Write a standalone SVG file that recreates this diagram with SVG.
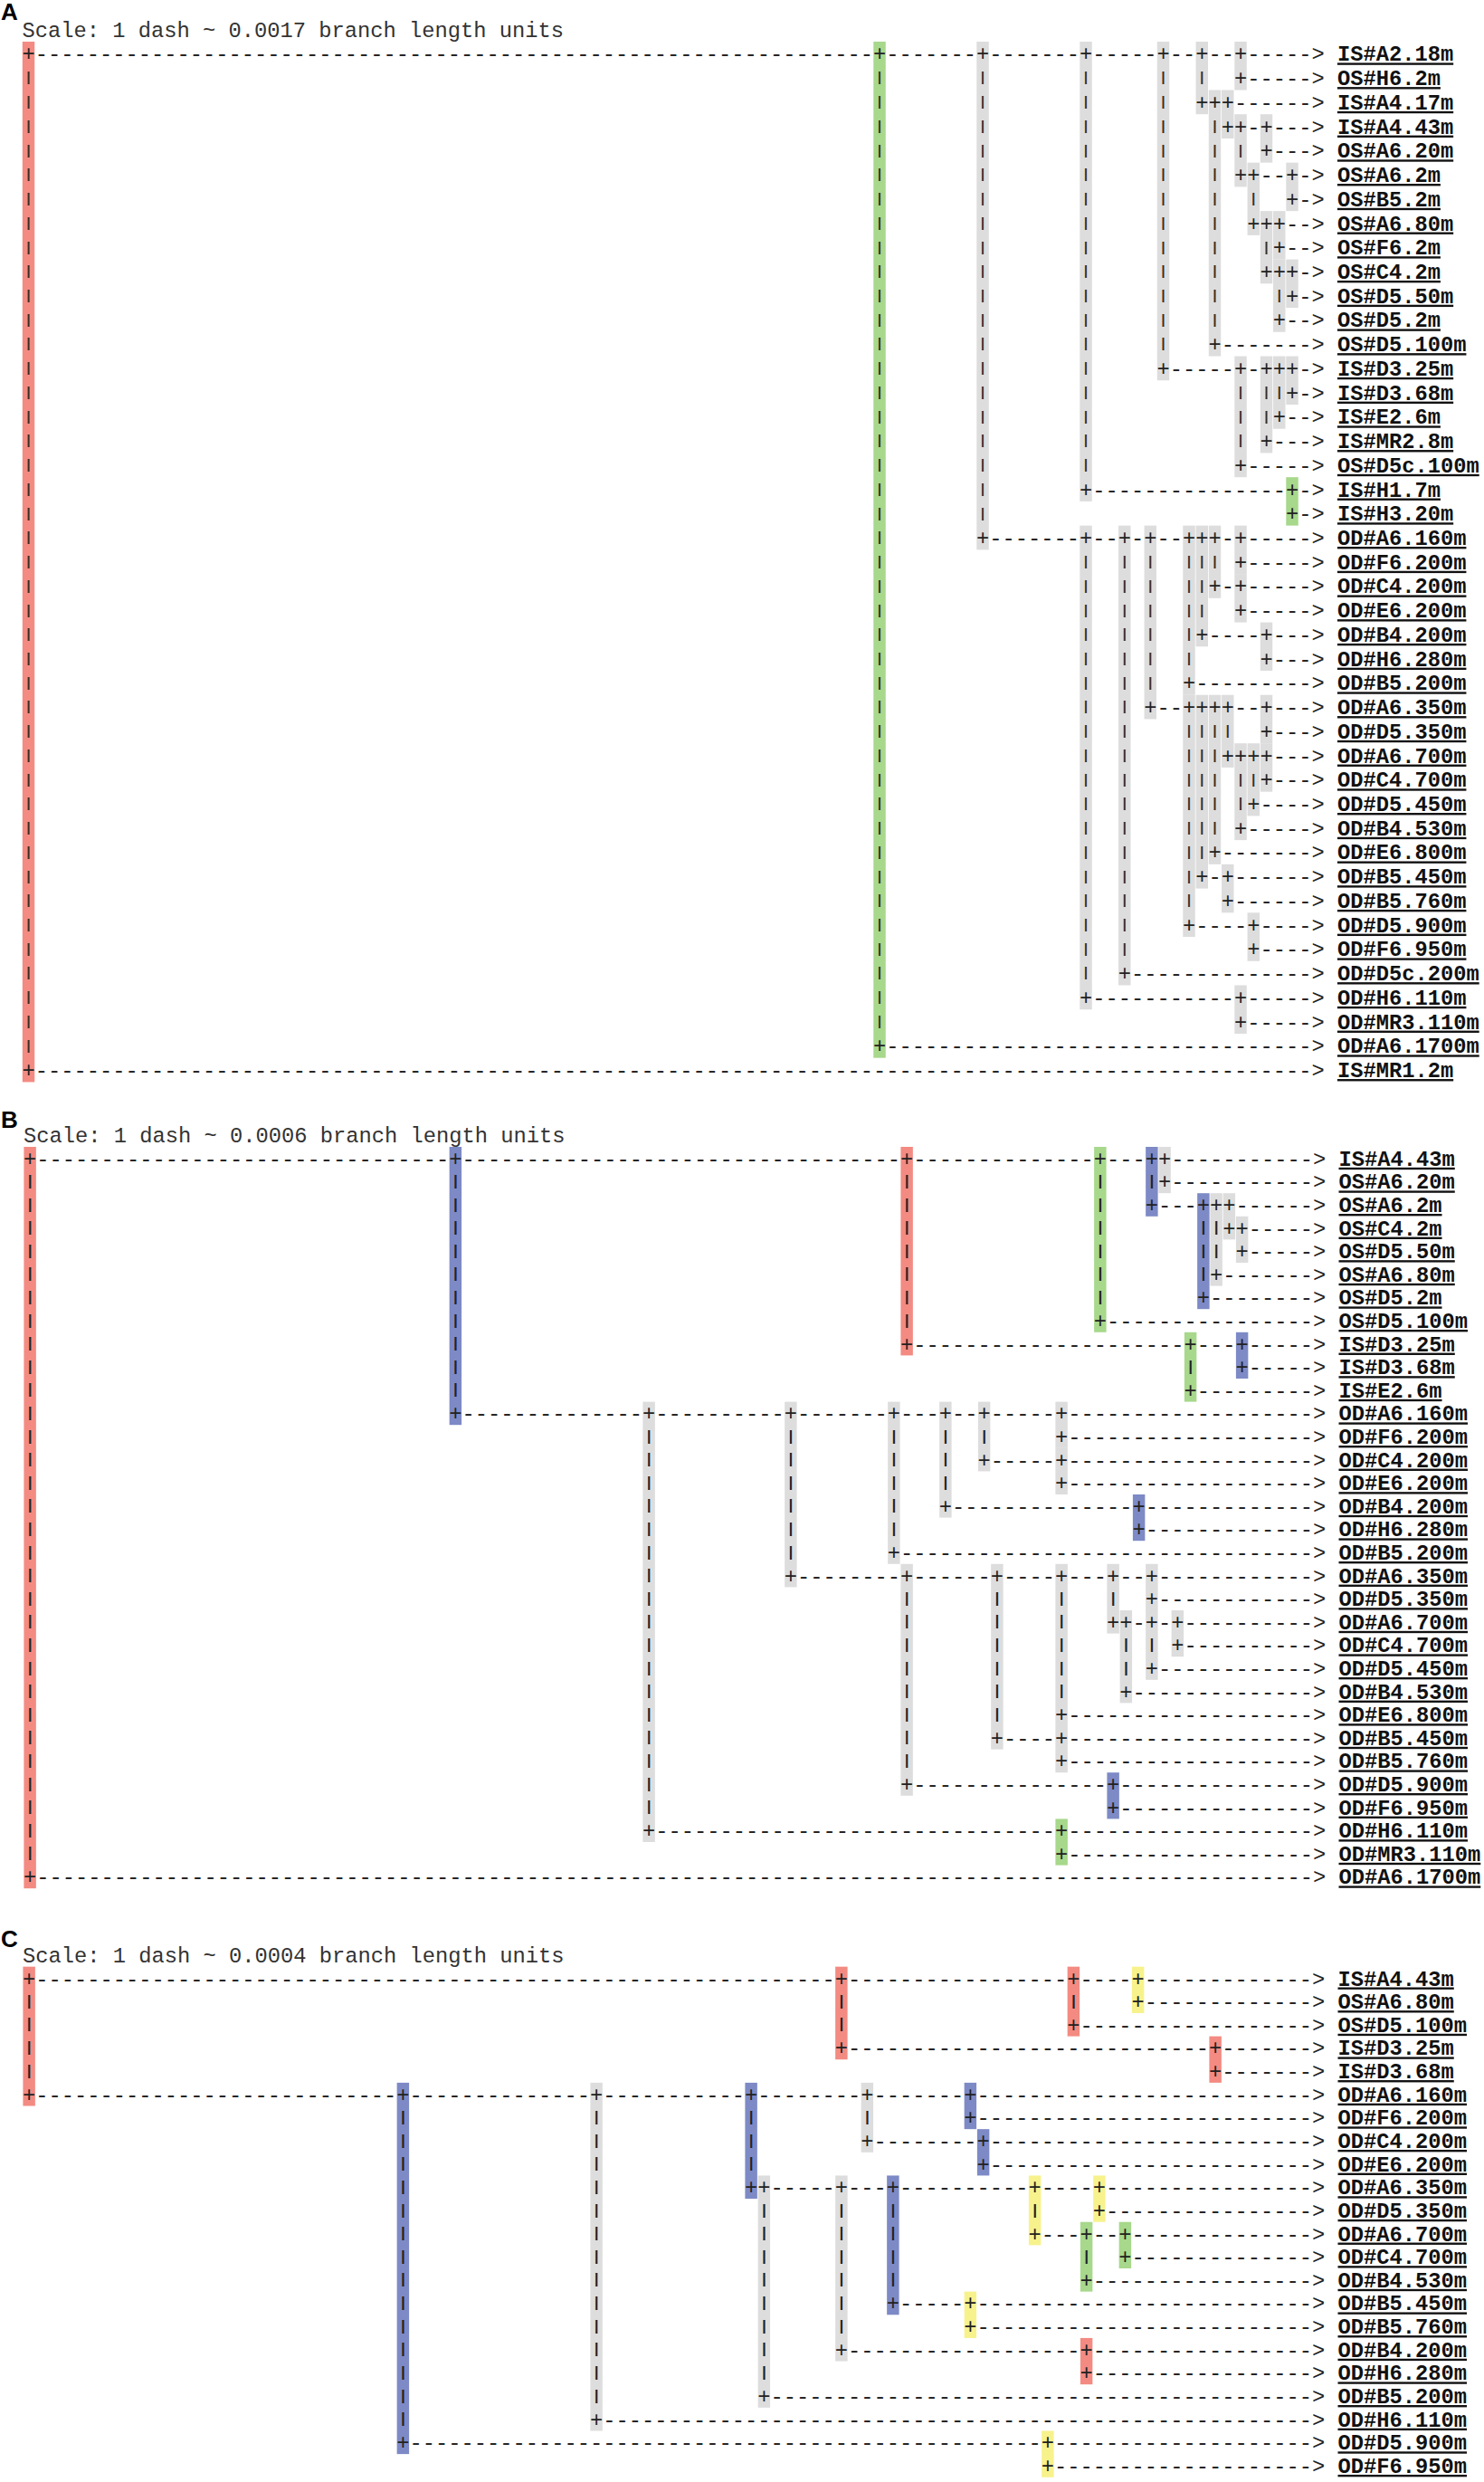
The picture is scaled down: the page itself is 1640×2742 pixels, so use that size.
<svg xmlns="http://www.w3.org/2000/svg" width="1640" height="2742" viewBox="0 0 1640 2742">
<style>
.t{font-family:"Liberation Mono","DejaVu Sans Mono",monospace;font-size:23.75px;fill:#222}
.pa{font-family:"Liberation Mono","DejaVu Sans Mono",monospace;font-size:15px;font-weight:bold;fill:#3a2d25}
.pb{font-family:"Liberation Mono","DejaVu Sans Mono",monospace;font-size:16.5px;font-weight:bold;fill:#222}
.l{font-family:"Liberation Mono","DejaVu Sans Mono",monospace;font-size:23.75px;font-weight:bold;text-decoration:underline;fill:#111}
.s{font-family:"Liberation Mono","DejaVu Sans Mono",monospace;font-size:23.75px;fill:#333}
.h{font-family:"Liberation Sans",Arial,sans-serif;font-size:26px;font-weight:bold;fill:#000}
.g{fill:#dddddd}.r{fill:#f38b82}.n{fill:#a7d88b}.b{fill:#7d8ac6}.y{fill:#f7f28c}
</style>
<rect width="1640" height="2742" fill="#fff"/>
<text class="h" x="1" y="22">A</text>
<text class="h" x="1" y="1246">B</text>
<text class="h" x="1" y="2151">C</text>

<g id="panelA" transform="translate(24.4 59.4)">
<text class="s" y="-18.73">Scale: 1 dash ~ 0.0017 branch length units</text>
<g id="A-nodes">
<g id="A-n1"><rect class="r" x="0.4" y="-13.37" width="13.45" height="1149.39"/></g>
<g id="A-n2"><rect class="n" x="940.9" y="-13.37" width="13.45" height="1122.66"/></g>
<g id="A-n3"><rect class="g" x="1054.9" y="-13.37" width="13.45" height="561.33"/></g>
<g id="A-n4"><rect class="g" x="1168.9" y="-13.37" width="13.45" height="507.87"/></g>
<g id="A-n5"><rect class="g" x="1254.4" y="-13.37" width="13.45" height="374.22"/></g>
<g id="A-n6"><rect class="g" x="1297.15" y="-13.37" width="13.45" height="80.19"/></g>
<g id="A-n7"><rect class="g" x="1339.9" y="-13.37" width="13.45" height="53.46"/></g>
<g id="A-n8"><rect class="g" x="1311.4" y="40.09" width="13.45" height="294.03"/></g>
<g id="A-n9"><rect class="g" x="1325.65" y="40.09" width="13.45" height="53.46"/></g>
<g id="A-n10"><rect class="g" x="1339.9" y="66.82" width="13.45" height="80.19"/></g>
<g id="A-n11"><rect class="g" x="1368.4" y="66.82" width="13.45" height="53.46"/></g>
<g id="A-n12"><rect class="g" x="1354.15" y="120.28" width="13.45" height="80.19"/></g>
<g id="A-n13"><rect class="g" x="1396.9" y="120.28" width="13.45" height="53.46"/></g>
<g id="A-n14"><rect class="g" x="1368.4" y="173.74" width="13.45" height="80.19"/></g>
<g id="A-n15"><rect class="g" x="1382.65" y="173.74" width="13.45" height="53.46"/></g>
<g id="A-n16"><rect class="g" x="1382.65" y="227.2" width="13.45" height="80.19"/></g>
<g id="A-n17"><rect class="g" x="1396.9" y="227.2" width="13.45" height="53.46"/></g>
<g id="A-n18"><rect class="g" x="1339.9" y="334.12" width="13.45" height="133.65"/></g>
<g id="A-n19"><rect class="g" x="1368.4" y="334.12" width="13.45" height="106.92"/></g>
<g id="A-n20"><rect class="g" x="1382.65" y="334.12" width="13.45" height="80.19"/></g>
<g id="A-n21"><rect class="g" x="1396.9" y="334.12" width="13.45" height="53.46"/></g>
<g id="A-n22"><rect class="n" x="1396.9" y="467.77" width="13.45" height="53.46"/></g>
<g id="A-n23"><rect class="g" x="1168.9" y="521.23" width="13.45" height="534.6"/></g>
<g id="A-n24"><rect class="g" x="1211.65" y="521.23" width="13.45" height="507.87"/></g>
<g id="A-n25"><rect class="g" x="1240.15" y="521.23" width="13.45" height="213.84"/></g>
<g id="A-n26"><rect class="g" x="1282.9" y="521.23" width="13.45" height="187.11"/></g>
<g id="A-n27"><rect class="g" x="1297.15" y="521.23" width="13.45" height="133.65"/></g>
<g id="A-n28"><rect class="g" x="1311.4" y="521.23" width="13.45" height="80.19"/></g>
<g id="A-n29"><rect class="g" x="1339.9" y="521.23" width="13.45" height="53.46"/></g>
<g id="A-n30"><rect class="g" x="1339.9" y="574.69" width="13.45" height="53.46"/></g>
<g id="A-n31"><rect class="g" x="1368.4" y="628.15" width="13.45" height="53.46"/></g>
<g id="A-n32"><rect class="g" x="1282.9" y="708.34" width="13.45" height="267.3"/></g>
<g id="A-n33"><rect class="g" x="1297.15" y="708.34" width="13.45" height="213.84"/></g>
<g id="A-n34"><rect class="g" x="1311.4" y="708.34" width="13.45" height="187.11"/></g>
<g id="A-n35"><rect class="g" x="1325.65" y="708.34" width="13.45" height="80.19"/></g>
<g id="A-n36"><rect class="g" x="1368.4" y="708.34" width="13.45" height="53.46"/></g>
<g id="A-n37"><rect class="g" x="1339.9" y="761.8" width="13.45" height="106.92"/></g>
<g id="A-n38"><rect class="g" x="1354.15" y="761.8" width="13.45" height="80.19"/></g>
<g id="A-n39"><rect class="g" x="1368.4" y="761.8" width="13.45" height="53.46"/></g>
<g id="A-n40"><rect class="g" x="1325.65" y="895.45" width="13.45" height="53.46"/></g>
<g id="A-n41"><rect class="g" x="1354.15" y="948.91" width="13.45" height="53.46"/></g>
<g id="A-n42"><rect class="g" x="1339.9" y="1029.1" width="13.45" height="53.46"/></g>
</g>
<g id="A-connectors">
<g transform="translate(0 0)"><text class="t" y="8"><tspan x="0" textLength="940.5">+-----------------------------------------------------------------</tspan><tspan x="940.5">+-------</tspan><tspan x="1054.5">+-------</tspan><tspan x="1168.5">+-----</tspan><tspan x="1254">+--</tspan><tspan x="1296.75">+--</tspan><tspan x="1339.5">+-----</tspan><tspan x="1425">&gt;</tspan></text></g>
<g transform="translate(0 26.73)"><text class="pa" x="2.63 943.13 1057.13 1171.13 1256.63 1299.38" y="4.3">||||||</text><text class="t" y="8"><tspan x="1339.5">+-----</tspan><tspan x="1425">&gt;</tspan></text></g>
<g transform="translate(0 53.46)"><text class="pa" x="2.63 943.13 1057.13 1171.13 1256.63" y="4.3">|||||</text><text class="t" y="8"><tspan x="1296.75">+++------</tspan><tspan x="1425">&gt;</tspan></text></g>
<g transform="translate(0 80.19)"><text class="pa" x="2.63 943.13 1057.13 1171.13 1256.63 1313.63" y="4.3">||||||</text><text class="t" y="8"><tspan x="1325.25">++-+---</tspan><tspan x="1425">&gt;</tspan></text></g>
<g transform="translate(0 106.92)"><text class="pa" x="2.63 943.13 1057.13 1171.13 1256.63 1313.63 1342.13" y="4.3">|||||||</text><text class="t" y="8"><tspan x="1368">+---</tspan><tspan x="1425">&gt;</tspan></text></g>
<g transform="translate(0 133.65)"><text class="pa" x="2.63 943.13 1057.13 1171.13 1256.63 1313.63" y="4.3">||||||</text><text class="t" y="8"><tspan x="1339.5">++--+-</tspan><tspan x="1425">&gt;</tspan></text></g>
<g transform="translate(0 160.38)"><text class="pa" x="2.63 943.13 1057.13 1171.13 1256.63 1313.63 1356.38" y="4.3">|||||||</text><text class="t" y="8"><tspan x="1396.5">+-</tspan><tspan x="1425">&gt;</tspan></text></g>
<g transform="translate(0 187.11)"><text class="pa" x="2.63 943.13 1057.13 1171.13 1256.63 1313.63" y="4.3">||||||</text><text class="t" y="8"><tspan x="1353.75">+++--</tspan><tspan x="1425">&gt;</tspan></text></g>
<g transform="translate(0 213.84)"><text class="pa" x="2.63 943.13 1057.13 1171.13 1256.63 1313.63 1370.63" y="4.3">|||||||</text><text class="t" y="8"><tspan x="1382.25">+--</tspan><tspan x="1425">&gt;</tspan></text></g>
<g transform="translate(0 240.57)"><text class="pa" x="2.63 943.13 1057.13 1171.13 1256.63 1313.63" y="4.3">||||||</text><text class="t" y="8"><tspan x="1368">+++-</tspan><tspan x="1425">&gt;</tspan></text></g>
<g transform="translate(0 267.3)"><text class="pa" x="2.63 943.13 1057.13 1171.13 1256.63 1313.63 1384.88" y="4.3">|||||||</text><text class="t" y="8"><tspan x="1396.5">+-</tspan><tspan x="1425">&gt;</tspan></text></g>
<g transform="translate(0 294.03)"><text class="pa" x="2.63 943.13 1057.13 1171.13 1256.63 1313.63" y="4.3">||||||</text><text class="t" y="8"><tspan x="1382.25">+--</tspan><tspan x="1425">&gt;</tspan></text></g>
<g transform="translate(0 320.76)"><text class="pa" x="2.63 943.13 1057.13 1171.13 1256.63" y="4.3">|||||</text><text class="t" y="8"><tspan x="1311">+-------</tspan><tspan x="1425">&gt;</tspan></text></g>
<g transform="translate(0 347.49)"><text class="pa" x="2.63 943.13 1057.13 1171.13" y="4.3">||||</text><text class="t" y="8"><tspan x="1254" textLength="171">+-----+-+++-</tspan><tspan x="1425">&gt;</tspan></text></g>
<g transform="translate(0 374.22)"><text class="pa" x="2.63 943.13 1057.13 1171.13 1342.13 1370.63 1384.88" y="4.3">|||||||</text><text class="t" y="8"><tspan x="1396.5">+-</tspan><tspan x="1425">&gt;</tspan></text></g>
<g transform="translate(0 400.95)"><text class="pa" x="2.63 943.13 1057.13 1171.13 1342.13 1370.63" y="4.3">||||||</text><text class="t" y="8"><tspan x="1382.25">+--</tspan><tspan x="1425">&gt;</tspan></text></g>
<g transform="translate(0 427.68)"><text class="pa" x="2.63 943.13 1057.13 1171.13 1342.13" y="4.3">|||||</text><text class="t" y="8"><tspan x="1368">+---</tspan><tspan x="1425">&gt;</tspan></text></g>
<g transform="translate(0 454.41)"><text class="pa" x="2.63 943.13 1057.13 1171.13" y="4.3">||||</text><text class="t" y="8"><tspan x="1339.5">+-----</tspan><tspan x="1425">&gt;</tspan></text></g>
<g transform="translate(0 481.14)"><text class="pa" x="2.63 943.13 1057.13" y="4.3">|||</text><text class="t" y="8"><tspan x="1168.5" textLength="228">+---------------</tspan><tspan x="1396.5">+-</tspan><tspan x="1425">&gt;</tspan></text></g>
<g transform="translate(0 507.87)"><text class="pa" x="2.63 943.13 1057.13" y="4.3">|||</text><text class="t" y="8"><tspan x="1396.5">+-</tspan><tspan x="1425">&gt;</tspan></text></g>
<g transform="translate(0 534.6)"><text class="pa" x="2.63 943.13" y="4.3">||</text><text class="t" y="8"><tspan x="1054.5">+-------</tspan><tspan x="1168.5" textLength="256.5">+--+-+--+++-+-----</tspan><tspan x="1425">&gt;</tspan></text></g>
<g transform="translate(0 561.33)"><text class="pa" x="2.63 943.13 1171.13 1213.88 1242.38 1285.13 1299.38 1313.63" y="4.3">||||||||</text><text class="t" y="8"><tspan x="1339.5">+-----</tspan><tspan x="1425">&gt;</tspan></text></g>
<g transform="translate(0 588.06)"><text class="pa" x="2.63 943.13 1171.13 1213.88 1242.38 1285.13 1299.38" y="4.3">|||||||</text><text class="t" y="8"><tspan x="1311">+-+-----</tspan><tspan x="1425">&gt;</tspan></text></g>
<g transform="translate(0 614.79)"><text class="pa" x="2.63 943.13 1171.13 1213.88 1242.38 1285.13 1299.38" y="4.3">|||||||</text><text class="t" y="8"><tspan x="1339.5">+-----</tspan><tspan x="1425">&gt;</tspan></text></g>
<g transform="translate(0 641.52)"><text class="pa" x="2.63 943.13 1171.13 1213.88 1242.38 1285.13" y="4.3">||||||</text><text class="t" y="8"><tspan x="1296.75">+----+---</tspan><tspan x="1425">&gt;</tspan></text></g>
<g transform="translate(0 668.25)"><text class="pa" x="2.63 943.13 1171.13 1213.88 1242.38 1285.13" y="4.3">||||||</text><text class="t" y="8"><tspan x="1368">+---</tspan><tspan x="1425">&gt;</tspan></text></g>
<g transform="translate(0 694.98)"><text class="pa" x="2.63 943.13 1171.13 1213.88 1242.38" y="4.3">|||||</text><text class="t" y="8"><tspan x="1282.5" textLength="142.5">+---------</tspan><tspan x="1425">&gt;</tspan></text></g>
<g transform="translate(0 721.71)"><text class="pa" x="2.63 943.13 1171.13 1213.88" y="4.3">||||</text><text class="t" y="8"><tspan x="1239.75" textLength="185.25">+--++++--+---</tspan><tspan x="1425">&gt;</tspan></text></g>
<g transform="translate(0 748.44)"><text class="pa" x="2.63 943.13 1171.13 1213.88 1285.13 1299.38 1313.63 1327.88" y="4.3">||||||||</text><text class="t" y="8"><tspan x="1368">+---</tspan><tspan x="1425">&gt;</tspan></text></g>
<g transform="translate(0 775.17)"><text class="pa" x="2.63 943.13 1171.13 1213.88 1285.13 1299.38 1313.63" y="4.3">|||||||</text><text class="t" y="8"><tspan x="1325.25">++++---</tspan><tspan x="1425">&gt;</tspan></text></g>
<g transform="translate(0 801.9)"><text class="pa" x="2.63 943.13 1171.13 1213.88 1285.13 1299.38 1313.63 1342.13 1356.38" y="4.3">|||||||||</text><text class="t" y="8"><tspan x="1368">+---</tspan><tspan x="1425">&gt;</tspan></text></g>
<g transform="translate(0 828.63)"><text class="pa" x="2.63 943.13 1171.13 1213.88 1285.13 1299.38 1313.63 1342.13" y="4.3">||||||||</text><text class="t" y="8"><tspan x="1353.75">+----</tspan><tspan x="1425">&gt;</tspan></text></g>
<g transform="translate(0 855.36)"><text class="pa" x="2.63 943.13 1171.13 1213.88 1285.13 1299.38 1313.63" y="4.3">|||||||</text><text class="t" y="8"><tspan x="1339.5">+-----</tspan><tspan x="1425">&gt;</tspan></text></g>
<g transform="translate(0 882.09)"><text class="pa" x="2.63 943.13 1171.13 1213.88 1285.13 1299.38" y="4.3">||||||</text><text class="t" y="8"><tspan x="1311">+-------</tspan><tspan x="1425">&gt;</tspan></text></g>
<g transform="translate(0 908.82)"><text class="pa" x="2.63 943.13 1171.13 1213.88 1285.13" y="4.3">|||||</text><text class="t" y="8"><tspan x="1296.75">+-+------</tspan><tspan x="1425">&gt;</tspan></text></g>
<g transform="translate(0 935.55)"><text class="pa" x="2.63 943.13 1171.13 1213.88 1285.13" y="4.3">|||||</text><text class="t" y="8"><tspan x="1325.25">+------</tspan><tspan x="1425">&gt;</tspan></text></g>
<g transform="translate(0 962.28)"><text class="pa" x="2.63 943.13 1171.13 1213.88" y="4.3">||||</text><text class="t" y="8"><tspan x="1282.5" textLength="142.5">+----+----</tspan><tspan x="1425">&gt;</tspan></text></g>
<g transform="translate(0 989.01)"><text class="pa" x="2.63 943.13 1171.13 1213.88" y="4.3">||||</text><text class="t" y="8"><tspan x="1353.75">+----</tspan><tspan x="1425">&gt;</tspan></text></g>
<g transform="translate(0 1015.74)"><text class="pa" x="2.63 943.13 1171.13" y="4.3">|||</text><text class="t" y="8"><tspan x="1211.25" textLength="213.75">+--------------</tspan><tspan x="1425">&gt;</tspan></text></g>
<g transform="translate(0 1042.47)"><text class="pa" x="2.63 943.13" y="4.3">||</text><text class="t" y="8"><tspan x="1168.5" textLength="171">+-----------</tspan><tspan x="1339.5">+-----</tspan><tspan x="1425">&gt;</tspan></text></g>
<g transform="translate(0 1069.2)"><text class="pa" x="2.63 943.13" y="4.3">||</text><text class="t" y="8"><tspan x="1339.5">+-----</tspan><tspan x="1425">&gt;</tspan></text></g>
<g transform="translate(0 1095.93)"><text class="pa" x="2.63" y="4.3">|</text><text class="t" y="8"><tspan x="940.5" textLength="484.5">+---------------------------------</tspan><tspan x="1425">&gt;</tspan></text></g>
<g transform="translate(0 1122.66)"><text class="t" y="8"><tspan x="0" textLength="1425">+---------------------------------------------------------------------------------------------------</tspan><tspan x="1425">&gt;</tspan></text></g>
</g>
<g id="A-leaves">
<g id="A-leaf1"><text class="l" x="1453.5" y="8">IS#A2.18m</text></g>
<g id="A-leaf2"><text class="l" x="1453.5" y="34.73">OS#H6.2m</text></g>
<g id="A-leaf3"><text class="l" x="1453.5" y="61.46">IS#A4.17m</text></g>
<g id="A-leaf4"><text class="l" x="1453.5" y="88.19">IS#A4.43m</text></g>
<g id="A-leaf5"><text class="l" x="1453.5" y="114.92">OS#A6.20m</text></g>
<g id="A-leaf6"><text class="l" x="1453.5" y="141.65">OS#A6.2m</text></g>
<g id="A-leaf7"><text class="l" x="1453.5" y="168.38">OS#B5.2m</text></g>
<g id="A-leaf8"><text class="l" x="1453.5" y="195.11">OS#A6.80m</text></g>
<g id="A-leaf9"><text class="l" x="1453.5" y="221.84">OS#F6.2m</text></g>
<g id="A-leaf10"><text class="l" x="1453.5" y="248.57">OS#C4.2m</text></g>
<g id="A-leaf11"><text class="l" x="1453.5" y="275.3">OS#D5.50m</text></g>
<g id="A-leaf12"><text class="l" x="1453.5" y="302.03">OS#D5.2m</text></g>
<g id="A-leaf13"><text class="l" x="1453.5" y="328.76">OS#D5.100m</text></g>
<g id="A-leaf14"><text class="l" x="1453.5" y="355.49">IS#D3.25m</text></g>
<g id="A-leaf15"><text class="l" x="1453.5" y="382.22">IS#D3.68m</text></g>
<g id="A-leaf16"><text class="l" x="1453.5" y="408.95">IS#E2.6m</text></g>
<g id="A-leaf17"><text class="l" x="1453.5" y="435.68">IS#MR2.8m</text></g>
<g id="A-leaf18"><text class="l" x="1453.5" y="462.41">OS#D5c.100m</text></g>
<g id="A-leaf19"><text class="l" x="1453.5" y="489.14">IS#H1.7m</text></g>
<g id="A-leaf20"><text class="l" x="1453.5" y="515.87">IS#H3.20m</text></g>
<g id="A-leaf21"><text class="l" x="1453.5" y="542.6">OD#A6.160m</text></g>
<g id="A-leaf22"><text class="l" x="1453.5" y="569.33">OD#F6.200m</text></g>
<g id="A-leaf23"><text class="l" x="1453.5" y="596.06">OD#C4.200m</text></g>
<g id="A-leaf24"><text class="l" x="1453.5" y="622.79">OD#E6.200m</text></g>
<g id="A-leaf25"><text class="l" x="1453.5" y="649.52">OD#B4.200m</text></g>
<g id="A-leaf26"><text class="l" x="1453.5" y="676.25">OD#H6.280m</text></g>
<g id="A-leaf27"><text class="l" x="1453.5" y="702.98">OD#B5.200m</text></g>
<g id="A-leaf28"><text class="l" x="1453.5" y="729.71">OD#A6.350m</text></g>
<g id="A-leaf29"><text class="l" x="1453.5" y="756.44">OD#D5.350m</text></g>
<g id="A-leaf30"><text class="l" x="1453.5" y="783.17">OD#A6.700m</text></g>
<g id="A-leaf31"><text class="l" x="1453.5" y="809.9">OD#C4.700m</text></g>
<g id="A-leaf32"><text class="l" x="1453.5" y="836.63">OD#D5.450m</text></g>
<g id="A-leaf33"><text class="l" x="1453.5" y="863.36">OD#B4.530m</text></g>
<g id="A-leaf34"><text class="l" x="1453.5" y="890.09">OD#E6.800m</text></g>
<g id="A-leaf35"><text class="l" x="1453.5" y="916.82">OD#B5.450m</text></g>
<g id="A-leaf36"><text class="l" x="1453.5" y="943.55">OD#B5.760m</text></g>
<g id="A-leaf37"><text class="l" x="1453.5" y="970.28">OD#D5.900m</text></g>
<g id="A-leaf38"><text class="l" x="1453.5" y="997.01">OD#F6.950m</text></g>
<g id="A-leaf39"><text class="l" x="1453.5" y="1023.74">OD#D5c.200m</text></g>
<g id="A-leaf40"><text class="l" x="1453.5" y="1050.47">OD#H6.110m</text></g>
<g id="A-leaf41"><text class="l" x="1453.5" y="1077.2">OD#MR3.110m</text></g>
<g id="A-leaf42"><text class="l" x="1453.5" y="1103.93">OD#A6.1700m</text></g>
<g id="A-leaf43"><text class="l" x="1453.5" y="1130.66">IS#MR1.2m</text></g>
</g>
</g>

<g id="panelB" transform="translate(26 1279.8)">
<text class="s" y="-17.6">Scale: 1 dash ~ 0.0006 branch length units</text>
<g id="B-nodes">
<g id="B-n1"><rect class="r" x="0.4" y="-12.8" width="13.45" height="819.2"/></g>
<g id="B-n2"><rect class="b" x="470.65" y="-12.8" width="13.45" height="307.2"/></g>
<g id="B-n3"><rect class="r" x="969.4" y="-12.8" width="13.45" height="230.4"/></g>
<g id="B-n4"><rect class="n" x="1183.15" y="-12.8" width="13.45" height="204.8"/></g>
<g id="B-n5"><rect class="b" x="1240.15" y="-12.8" width="13.45" height="76.8"/></g>
<g id="B-n6"><rect class="g" x="1254.4" y="-12.8" width="13.45" height="51.2"/></g>
<g id="B-n7"><rect class="b" x="1297.15" y="38.4" width="13.45" height="128"/></g>
<g id="B-n8"><rect class="g" x="1311.4" y="38.4" width="13.45" height="102.4"/></g>
<g id="B-n9"><rect class="g" x="1325.65" y="38.4" width="13.45" height="51.2"/></g>
<g id="B-n10"><rect class="g" x="1339.9" y="64" width="13.45" height="51.2"/></g>
<g id="B-n11"><rect class="n" x="1282.9" y="192" width="13.45" height="76.8"/></g>
<g id="B-n12"><rect class="b" x="1339.9" y="192" width="13.45" height="51.2"/></g>
<g id="B-n13"><rect class="g" x="684.4" y="268.8" width="13.45" height="486.4"/></g>
<g id="B-n14"><rect class="g" x="841.15" y="268.8" width="13.45" height="204.8"/></g>
<g id="B-n15"><rect class="g" x="955.15" y="268.8" width="13.45" height="179.2"/></g>
<g id="B-n16"><rect class="g" x="1012.15" y="268.8" width="13.45" height="128"/></g>
<g id="B-n17"><rect class="g" x="1054.9" y="268.8" width="13.45" height="76.8"/></g>
<g id="B-n18"><rect class="g" x="1140.4" y="268.8" width="13.45" height="51.2"/></g>
<g id="B-n19"><rect class="g" x="1140.4" y="320" width="13.45" height="51.2"/></g>
<g id="B-n20"><rect class="b" x="1225.9" y="371.2" width="13.45" height="51.2"/></g>
<g id="B-n21"><rect class="g" x="969.4" y="448" width="13.45" height="256"/></g>
<g id="B-n22"><rect class="g" x="1069.15" y="448" width="13.45" height="204.8"/></g>
<g id="B-n23"><rect class="g" x="1140.4" y="448" width="13.45" height="179.2"/></g>
<g id="B-n24"><rect class="g" x="1197.4" y="448" width="13.45" height="76.8"/></g>
<g id="B-n25"><rect class="g" x="1240.15" y="448" width="13.45" height="51.2"/></g>
<g id="B-n26"><rect class="g" x="1211.65" y="499.2" width="13.45" height="102.4"/></g>
<g id="B-n27"><rect class="g" x="1240.15" y="499.2" width="13.45" height="76.8"/></g>
<g id="B-n28"><rect class="g" x="1268.65" y="499.2" width="13.45" height="51.2"/></g>
<g id="B-n29"><rect class="g" x="1140.4" y="627.2" width="13.45" height="51.2"/></g>
<g id="B-n30"><rect class="b" x="1197.4" y="678.4" width="13.45" height="51.2"/></g>
<g id="B-n31"><rect class="n" x="1140.4" y="729.6" width="13.45" height="51.2"/></g>
</g>
<g id="B-connectors">
<g transform="translate(0 0)"><text class="t" y="8"><tspan x="0" textLength="470.25">+--------------------------------</tspan><tspan x="470.25" textLength="498.75">+----------------------------------</tspan><tspan x="969" textLength="213.75">+--------------</tspan><tspan x="1182.75">+---</tspan><tspan x="1239.75" textLength="185.25">++-----------</tspan><tspan x="1425">&gt;</tspan></text></g>
<g transform="translate(0 25.6)"><text class="pb" x="2.18 472.43 971.18 1184.93 1241.93" y="4.6">|||||</text><text class="t" y="8"><tspan x="1254" textLength="171">+-----------</tspan><tspan x="1425">&gt;</tspan></text></g>
<g transform="translate(0 51.2)"><text class="pb" x="2.18 472.43 971.18 1184.93" y="4.6">||||</text><text class="t" y="8"><tspan x="1239.75" textLength="185.25">+---+++------</tspan><tspan x="1425">&gt;</tspan></text></g>
<g transform="translate(0 76.8)"><text class="pb" x="2.18 472.43 971.18 1184.93 1298.93 1313.18" y="4.6">||||||</text><text class="t" y="8"><tspan x="1325.25">++-----</tspan><tspan x="1425">&gt;</tspan></text></g>
<g transform="translate(0 102.4)"><text class="pb" x="2.18 472.43 971.18 1184.93 1298.93 1313.18" y="4.6">||||||</text><text class="t" y="8"><tspan x="1339.5">+-----</tspan><tspan x="1425">&gt;</tspan></text></g>
<g transform="translate(0 128)"><text class="pb" x="2.18 472.43 971.18 1184.93 1298.93" y="4.6">|||||</text><text class="t" y="8"><tspan x="1311">+-------</tspan><tspan x="1425">&gt;</tspan></text></g>
<g transform="translate(0 153.6)"><text class="pb" x="2.18 472.43 971.18 1184.93" y="4.6">||||</text><text class="t" y="8"><tspan x="1296.75">+--------</tspan><tspan x="1425">&gt;</tspan></text></g>
<g transform="translate(0 179.2)"><text class="pb" x="2.18 472.43 971.18" y="4.6">|||</text><text class="t" y="8"><tspan x="1182.75" textLength="242.25">+----------------</tspan><tspan x="1425">&gt;</tspan></text></g>
<g transform="translate(0 204.8)"><text class="pb" x="2.18 472.43" y="4.6">||</text><text class="t" y="8"><tspan x="969" textLength="313.5">+---------------------</tspan><tspan x="1282.5">+---</tspan><tspan x="1339.5">+-----</tspan><tspan x="1425">&gt;</tspan></text></g>
<g transform="translate(0 230.4)"><text class="pb" x="2.18 472.43 1284.68" y="4.6">|||</text><text class="t" y="8"><tspan x="1339.5">+-----</tspan><tspan x="1425">&gt;</tspan></text></g>
<g transform="translate(0 256)"><text class="pb" x="2.18 472.43" y="4.6">||</text><text class="t" y="8"><tspan x="1282.5" textLength="142.5">+---------</tspan><tspan x="1425">&gt;</tspan></text></g>
<g transform="translate(0 281.6)"><text class="pb" x="2.18" y="4.6">|</text><text class="t" y="8"><tspan x="470.25" textLength="213.75">+--------------</tspan><tspan x="684" textLength="156.75">+----------</tspan><tspan x="840.75">+-------</tspan><tspan x="954.75">+---</tspan><tspan x="1011.75">+--</tspan><tspan x="1054.5">+-----</tspan><tspan x="1140" textLength="285">+-------------------</tspan><tspan x="1425">&gt;</tspan></text></g>
<g transform="translate(0 307.2)"><text class="pb" x="2.18 686.18 842.93 956.93 1013.93 1056.68" y="4.6">||||||</text><text class="t" y="8"><tspan x="1140" textLength="285">+-------------------</tspan><tspan x="1425">&gt;</tspan></text></g>
<g transform="translate(0 332.8)"><text class="pb" x="2.18 686.18 842.93 956.93 1013.93" y="4.6">|||||</text><text class="t" y="8"><tspan x="1054.5">+-----</tspan><tspan x="1140" textLength="285">+-------------------</tspan><tspan x="1425">&gt;</tspan></text></g>
<g transform="translate(0 358.4)"><text class="pb" x="2.18 686.18 842.93 956.93 1013.93" y="4.6">|||||</text><text class="t" y="8"><tspan x="1140" textLength="285">+-------------------</tspan><tspan x="1425">&gt;</tspan></text></g>
<g transform="translate(0 384)"><text class="pb" x="2.18 686.18 842.93 956.93" y="4.6">||||</text><text class="t" y="8"><tspan x="1011.75" textLength="213.75">+--------------</tspan><tspan x="1225.5" textLength="199.5">+-------------</tspan><tspan x="1425">&gt;</tspan></text></g>
<g transform="translate(0 409.6)"><text class="pb" x="2.18 686.18 842.93 956.93" y="4.6">||||</text><text class="t" y="8"><tspan x="1225.5" textLength="199.5">+-------------</tspan><tspan x="1425">&gt;</tspan></text></g>
<g transform="translate(0 435.2)"><text class="pb" x="2.18 686.18 842.93" y="4.6">|||</text><text class="t" y="8"><tspan x="954.75" textLength="470.25">+--------------------------------</tspan><tspan x="1425">&gt;</tspan></text></g>
<g transform="translate(0 460.8)"><text class="pb" x="2.18 686.18" y="4.6">||</text><text class="t" y="8"><tspan x="840.75">+--------</tspan><tspan x="969">+------</tspan><tspan x="1068.75">+----</tspan><tspan x="1140">+---</tspan><tspan x="1197">+--</tspan><tspan x="1239.75" textLength="185.25">+------------</tspan><tspan x="1425">&gt;</tspan></text></g>
<g transform="translate(0 486.4)"><text class="pb" x="2.18 686.18 971.18 1070.93 1142.18 1199.18" y="4.6">||||||</text><text class="t" y="8"><tspan x="1239.75" textLength="185.25">+------------</tspan><tspan x="1425">&gt;</tspan></text></g>
<g transform="translate(0 512)"><text class="pb" x="2.18 686.18 971.18 1070.93 1142.18" y="4.6">|||||</text><text class="t" y="8"><tspan x="1197" textLength="228">++-+-+----------</tspan><tspan x="1425">&gt;</tspan></text></g>
<g transform="translate(0 537.6)"><text class="pb" x="2.18 686.18 971.18 1070.93 1142.18 1213.43 1241.93" y="4.6">|||||||</text><text class="t" y="8"><tspan x="1268.25" textLength="156.75">+----------</tspan><tspan x="1425">&gt;</tspan></text></g>
<g transform="translate(0 563.2)"><text class="pb" x="2.18 686.18 971.18 1070.93 1142.18 1213.43" y="4.6">||||||</text><text class="t" y="8"><tspan x="1239.75" textLength="185.25">+------------</tspan><tspan x="1425">&gt;</tspan></text></g>
<g transform="translate(0 588.8)"><text class="pb" x="2.18 686.18 971.18 1070.93 1142.18" y="4.6">|||||</text><text class="t" y="8"><tspan x="1211.25" textLength="213.75">+--------------</tspan><tspan x="1425">&gt;</tspan></text></g>
<g transform="translate(0 614.4)"><text class="pb" x="2.18 686.18 971.18 1070.93" y="4.6">||||</text><text class="t" y="8"><tspan x="1140" textLength="285">+-------------------</tspan><tspan x="1425">&gt;</tspan></text></g>
<g transform="translate(0 640)"><text class="pb" x="2.18 686.18 971.18" y="4.6">|||</text><text class="t" y="8"><tspan x="1068.75">+----</tspan><tspan x="1140" textLength="285">+-------------------</tspan><tspan x="1425">&gt;</tspan></text></g>
<g transform="translate(0 665.6)"><text class="pb" x="2.18 686.18 971.18" y="4.6">|||</text><text class="t" y="8"><tspan x="1140" textLength="285">+-------------------</tspan><tspan x="1425">&gt;</tspan></text></g>
<g transform="translate(0 691.2)"><text class="pb" x="2.18 686.18" y="4.6">||</text><text class="t" y="8"><tspan x="969" textLength="228">+---------------</tspan><tspan x="1197" textLength="228">+---------------</tspan><tspan x="1425">&gt;</tspan></text></g>
<g transform="translate(0 716.8)"><text class="pb" x="2.18 686.18" y="4.6">||</text><text class="t" y="8"><tspan x="1197" textLength="228">+---------------</tspan><tspan x="1425">&gt;</tspan></text></g>
<g transform="translate(0 742.4)"><text class="pb" x="2.18" y="4.6">|</text><text class="t" y="8"><tspan x="684" textLength="456">+-------------------------------</tspan><tspan x="1140" textLength="285">+-------------------</tspan><tspan x="1425">&gt;</tspan></text></g>
<g transform="translate(0 768)"><text class="pb" x="2.18" y="4.6">|</text><text class="t" y="8"><tspan x="1140" textLength="285">+-------------------</tspan><tspan x="1425">&gt;</tspan></text></g>
<g transform="translate(0 793.6)"><text class="t" y="8"><tspan x="0" textLength="1425">+---------------------------------------------------------------------------------------------------</tspan><tspan x="1425">&gt;</tspan></text></g>
</g>
<g id="B-leaves">
<g id="B-leaf1"><text class="l" x="1453.5" y="8">IS#A4.43m</text></g>
<g id="B-leaf2"><text class="l" x="1453.5" y="33.6">OS#A6.20m</text></g>
<g id="B-leaf3"><text class="l" x="1453.5" y="59.2">OS#A6.2m</text></g>
<g id="B-leaf4"><text class="l" x="1453.5" y="84.8">OS#C4.2m</text></g>
<g id="B-leaf5"><text class="l" x="1453.5" y="110.4">OS#D5.50m</text></g>
<g id="B-leaf6"><text class="l" x="1453.5" y="136">OS#A6.80m</text></g>
<g id="B-leaf7"><text class="l" x="1453.5" y="161.6">OS#D5.2m</text></g>
<g id="B-leaf8"><text class="l" x="1453.5" y="187.2">OS#D5.100m</text></g>
<g id="B-leaf9"><text class="l" x="1453.5" y="212.8">IS#D3.25m</text></g>
<g id="B-leaf10"><text class="l" x="1453.5" y="238.4">IS#D3.68m</text></g>
<g id="B-leaf11"><text class="l" x="1453.5" y="264">IS#E2.6m</text></g>
<g id="B-leaf12"><text class="l" x="1453.5" y="289.6">OD#A6.160m</text></g>
<g id="B-leaf13"><text class="l" x="1453.5" y="315.2">OD#F6.200m</text></g>
<g id="B-leaf14"><text class="l" x="1453.5" y="340.8">OD#C4.200m</text></g>
<g id="B-leaf15"><text class="l" x="1453.5" y="366.4">OD#E6.200m</text></g>
<g id="B-leaf16"><text class="l" x="1453.5" y="392">OD#B4.200m</text></g>
<g id="B-leaf17"><text class="l" x="1453.5" y="417.6">OD#H6.280m</text></g>
<g id="B-leaf18"><text class="l" x="1453.5" y="443.2">OD#B5.200m</text></g>
<g id="B-leaf19"><text class="l" x="1453.5" y="468.8">OD#A6.350m</text></g>
<g id="B-leaf20"><text class="l" x="1453.5" y="494.4">OD#D5.350m</text></g>
<g id="B-leaf21"><text class="l" x="1453.5" y="520">OD#A6.700m</text></g>
<g id="B-leaf22"><text class="l" x="1453.5" y="545.6">OD#C4.700m</text></g>
<g id="B-leaf23"><text class="l" x="1453.5" y="571.2">OD#D5.450m</text></g>
<g id="B-leaf24"><text class="l" x="1453.5" y="596.8">OD#B4.530m</text></g>
<g id="B-leaf25"><text class="l" x="1453.5" y="622.4">OD#E6.800m</text></g>
<g id="B-leaf26"><text class="l" x="1453.5" y="648">OD#B5.450m</text></g>
<g id="B-leaf27"><text class="l" x="1453.5" y="673.6">OD#B5.760m</text></g>
<g id="B-leaf28"><text class="l" x="1453.5" y="699.2">OD#D5.900m</text></g>
<g id="B-leaf29"><text class="l" x="1453.5" y="724.8">OD#F6.950m</text></g>
<g id="B-leaf30"><text class="l" x="1453.5" y="750.4">OD#H6.110m</text></g>
<g id="B-leaf31"><text class="l" x="1453.5" y="776">OD#MR3.110m</text></g>
<g id="B-leaf32"><text class="l" x="1453.5" y="801.6">OD#A6.1700m</text></g>
</g>
</g>

<g id="panelC" transform="translate(25 2185.5)">
<text class="s" y="-17.64">Scale: 1 dash ~ 0.0004 branch length units</text>
<g id="C-nodes">
<g id="C-n1"><rect class="r" x="0.4" y="-12.82" width="13.45" height="153.84"/></g>
<g id="C-n2"><rect class="r" x="898.15" y="-12.82" width="13.45" height="102.56"/></g>
<g id="C-n3"><rect class="r" x="1154.65" y="-12.82" width="13.45" height="76.92"/></g>
<g id="C-n4"><rect class="y" x="1225.9" y="-12.82" width="13.45" height="51.28"/></g>
<g id="C-n5"><rect class="r" x="1311.4" y="64.1" width="13.45" height="51.28"/></g>
<g id="C-n6"><rect class="b" x="413.65" y="115.38" width="13.45" height="410.24"/></g>
<g id="C-n7"><rect class="g" x="627.4" y="115.38" width="13.45" height="384.6"/></g>
<g id="C-n8"><rect class="b" x="798.4" y="115.38" width="13.45" height="128.2"/></g>
<g id="C-n9"><rect class="g" x="926.65" y="115.38" width="13.45" height="76.92"/></g>
<g id="C-n10"><rect class="b" x="1040.65" y="115.38" width="13.45" height="51.28"/></g>
<g id="C-n11"><rect class="b" x="1054.9" y="166.66" width="13.45" height="51.28"/></g>
<g id="C-n12"><rect class="g" x="812.65" y="217.94" width="13.45" height="256.4"/></g>
<g id="C-n13"><rect class="g" x="898.15" y="217.94" width="13.45" height="205.12"/></g>
<g id="C-n14"><rect class="b" x="955.15" y="217.94" width="13.45" height="153.84"/></g>
<g id="C-n15"><rect class="y" x="1111.9" y="217.94" width="13.45" height="76.92"/></g>
<g id="C-n16"><rect class="y" x="1183.15" y="217.94" width="13.45" height="51.28"/></g>
<g id="C-n17"><rect class="n" x="1168.9" y="269.22" width="13.45" height="76.92"/></g>
<g id="C-n18"><rect class="n" x="1211.65" y="269.22" width="13.45" height="51.28"/></g>
<g id="C-n19"><rect class="y" x="1040.65" y="346.14" width="13.45" height="51.28"/></g>
<g id="C-n20"><rect class="r" x="1168.9" y="397.42" width="13.45" height="51.28"/></g>
<g id="C-n21"><rect class="y" x="1126.15" y="499.98" width="13.45" height="51.28"/></g>
</g>
<g id="C-connectors">
<g transform="translate(0 0)"><text class="t" y="8"><tspan x="0" textLength="897.75">+--------------------------------------------------------------</tspan><tspan x="897.75" textLength="256.5">+-----------------</tspan><tspan x="1154.25">+----</tspan><tspan x="1225.5" textLength="199.5">+-------------</tspan><tspan x="1425">&gt;</tspan></text></g>
<g transform="translate(0 25.64)"><text class="pb" x="2.18 899.93 1156.43" y="4.6">|||</text><text class="t" y="8"><tspan x="1225.5" textLength="199.5">+-------------</tspan><tspan x="1425">&gt;</tspan></text></g>
<g transform="translate(0 51.28)"><text class="pb" x="2.18 899.93" y="4.6">||</text><text class="t" y="8"><tspan x="1154.25" textLength="270.75">+------------------</tspan><tspan x="1425">&gt;</tspan></text></g>
<g transform="translate(0 76.92)"><text class="pb" x="2.18" y="4.6">|</text><text class="t" y="8"><tspan x="897.75" textLength="413.25">+----------------------------</tspan><tspan x="1311">+-------</tspan><tspan x="1425">&gt;</tspan></text></g>
<g transform="translate(0 102.56)"><text class="pb" x="2.18" y="4.6">|</text><text class="t" y="8"><tspan x="1311">+-------</tspan><tspan x="1425">&gt;</tspan></text></g>
<g transform="translate(0 128.2)"><text class="t" y="8"><tspan x="0" textLength="413.25">+----------------------------</tspan><tspan x="413.25" textLength="213.75">+--------------</tspan><tspan x="627" textLength="171">+-----------</tspan><tspan x="798">+--------</tspan><tspan x="926.25">+-------</tspan><tspan x="1040.25" textLength="384.75">+--------------------------</tspan><tspan x="1425">&gt;</tspan></text></g>
<g transform="translate(0 153.84)"><text class="pb" x="415.43 629.18 800.18 928.43" y="4.6">||||</text><text class="t" y="8"><tspan x="1040.25" textLength="384.75">+--------------------------</tspan><tspan x="1425">&gt;</tspan></text></g>
<g transform="translate(0 179.48)"><text class="pb" x="415.43 629.18 800.18" y="4.6">|||</text><text class="t" y="8"><tspan x="926.25">+--------</tspan><tspan x="1054.5" textLength="370.5">+-------------------------</tspan><tspan x="1425">&gt;</tspan></text></g>
<g transform="translate(0 205.12)"><text class="pb" x="415.43 629.18 800.18" y="4.6">|||</text><text class="t" y="8"><tspan x="1054.5" textLength="370.5">+-------------------------</tspan><tspan x="1425">&gt;</tspan></text></g>
<g transform="translate(0 230.76)"><text class="pb" x="415.43 629.18" y="4.6">||</text><text class="t" y="8"><tspan x="798">++-----</tspan><tspan x="897.75">+---</tspan><tspan x="954.75" textLength="156.75">+----------</tspan><tspan x="1111.5">+----</tspan><tspan x="1182.75" textLength="242.25">+----------------</tspan><tspan x="1425">&gt;</tspan></text></g>
<g transform="translate(0 256.4)"><text class="pb" x="415.43 629.18 814.43 899.93 956.93 1113.68" y="4.6">||||||</text><text class="t" y="8"><tspan x="1182.75" textLength="242.25">+----------------</tspan><tspan x="1425">&gt;</tspan></text></g>
<g transform="translate(0 282.04)"><text class="pb" x="415.43 629.18 814.43 899.93 956.93" y="4.6">|||||</text><text class="t" y="8"><tspan x="1111.5">+---</tspan><tspan x="1168.5">+--</tspan><tspan x="1211.25" textLength="213.75">+--------------</tspan><tspan x="1425">&gt;</tspan></text></g>
<g transform="translate(0 307.68)"><text class="pb" x="415.43 629.18 814.43 899.93 956.93 1170.68" y="4.6">||||||</text><text class="t" y="8"><tspan x="1211.25" textLength="213.75">+--------------</tspan><tspan x="1425">&gt;</tspan></text></g>
<g transform="translate(0 333.32)"><text class="pb" x="415.43 629.18 814.43 899.93 956.93" y="4.6">|||||</text><text class="t" y="8"><tspan x="1168.5" textLength="256.5">+-----------------</tspan><tspan x="1425">&gt;</tspan></text></g>
<g transform="translate(0 358.96)"><text class="pb" x="415.43 629.18 814.43 899.93" y="4.6">||||</text><text class="t" y="8"><tspan x="954.75">+-----</tspan><tspan x="1040.25" textLength="384.75">+--------------------------</tspan><tspan x="1425">&gt;</tspan></text></g>
<g transform="translate(0 384.6)"><text class="pb" x="415.43 629.18 814.43 899.93" y="4.6">||||</text><text class="t" y="8"><tspan x="1040.25" textLength="384.75">+--------------------------</tspan><tspan x="1425">&gt;</tspan></text></g>
<g transform="translate(0 410.24)"><text class="pb" x="415.43 629.18 814.43" y="4.6">|||</text><text class="t" y="8"><tspan x="897.75" textLength="270.75">+------------------</tspan><tspan x="1168.5" textLength="256.5">+-----------------</tspan><tspan x="1425">&gt;</tspan></text></g>
<g transform="translate(0 435.88)"><text class="pb" x="415.43 629.18 814.43" y="4.6">|||</text><text class="t" y="8"><tspan x="1168.5" textLength="256.5">+-----------------</tspan><tspan x="1425">&gt;</tspan></text></g>
<g transform="translate(0 461.52)"><text class="pb" x="415.43 629.18" y="4.6">||</text><text class="t" y="8"><tspan x="812.25" textLength="612.75">+------------------------------------------</tspan><tspan x="1425">&gt;</tspan></text></g>
<g transform="translate(0 487.16)"><text class="pb" x="415.43" y="4.6">|</text><text class="t" y="8"><tspan x="627" textLength="798">+-------------------------------------------------------</tspan><tspan x="1425">&gt;</tspan></text></g>
<g transform="translate(0 512.8)"><text class="t" y="8"><tspan x="413.25" textLength="712.5">+-------------------------------------------------</tspan><tspan x="1125.75" textLength="299.25">+--------------------</tspan><tspan x="1425">&gt;</tspan></text></g>
<g transform="translate(0 538.44)"><text class="t" y="8"><tspan x="1125.75" textLength="299.25">+--------------------</tspan><tspan x="1425">&gt;</tspan></text></g>
</g>
<g id="C-leaves">
<g id="C-leaf1"><text class="l" x="1453.5" y="8">IS#A4.43m</text></g>
<g id="C-leaf2"><text class="l" x="1453.5" y="33.64">OS#A6.80m</text></g>
<g id="C-leaf3"><text class="l" x="1453.5" y="59.28">OS#D5.100m</text></g>
<g id="C-leaf4"><text class="l" x="1453.5" y="84.92">IS#D3.25m</text></g>
<g id="C-leaf5"><text class="l" x="1453.5" y="110.56">IS#D3.68m</text></g>
<g id="C-leaf6"><text class="l" x="1453.5" y="136.2">OD#A6.160m</text></g>
<g id="C-leaf7"><text class="l" x="1453.5" y="161.84">OD#F6.200m</text></g>
<g id="C-leaf8"><text class="l" x="1453.5" y="187.48">OD#C4.200m</text></g>
<g id="C-leaf9"><text class="l" x="1453.5" y="213.12">OD#E6.200m</text></g>
<g id="C-leaf10"><text class="l" x="1453.5" y="238.76">OD#A6.350m</text></g>
<g id="C-leaf11"><text class="l" x="1453.5" y="264.4">OD#D5.350m</text></g>
<g id="C-leaf12"><text class="l" x="1453.5" y="290.04">OD#A6.700m</text></g>
<g id="C-leaf13"><text class="l" x="1453.5" y="315.68">OD#C4.700m</text></g>
<g id="C-leaf14"><text class="l" x="1453.5" y="341.32">OD#B4.530m</text></g>
<g id="C-leaf15"><text class="l" x="1453.5" y="366.96">OD#B5.450m</text></g>
<g id="C-leaf16"><text class="l" x="1453.5" y="392.6">OD#B5.760m</text></g>
<g id="C-leaf17"><text class="l" x="1453.5" y="418.24">OD#B4.200m</text></g>
<g id="C-leaf18"><text class="l" x="1453.5" y="443.88">OD#H6.280m</text></g>
<g id="C-leaf19"><text class="l" x="1453.5" y="469.52">OD#B5.200m</text></g>
<g id="C-leaf20"><text class="l" x="1453.5" y="495.16">OD#H6.110m</text></g>
<g id="C-leaf21"><text class="l" x="1453.5" y="520.8">OD#D5.900m</text></g>
<g id="C-leaf22"><text class="l" x="1453.5" y="546.44">OD#F6.950m</text></g>
</g>
</g>
</svg>
